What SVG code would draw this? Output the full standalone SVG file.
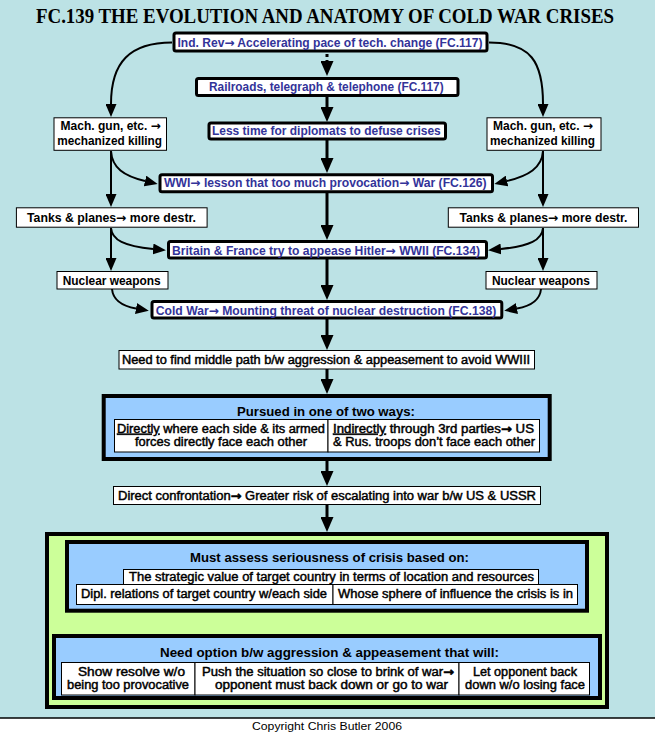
<svg xmlns="http://www.w3.org/2000/svg" width="655" height="735" viewBox="0 0 655 735">
<style>
.bg{fill:#bce2e5}
.tb{fill:#fff;stroke:#000;stroke-width:3}
.nb{fill:#fff;stroke:#000;stroke-width:1}
.big{fill:#99ccff;stroke:#000;stroke-width:4}
.grn{fill:#ccff99;stroke:#000;stroke-width:4}
.bt{font-family:"Liberation Sans Narrow","Arial Narrow","Liberation Sans",Arial,sans-serif;font-weight:bold;font-size:12.5px;fill:#333399}
.kt{font-family:"Liberation Sans Narrow","Arial Narrow","Liberation Sans",Arial,sans-serif;font-weight:bold;font-size:12.5px;fill:#000}
.h{font-family:"Liberation Sans",Arial,sans-serif;font-weight:bold;font-size:12px;fill:#000}
.r{font-family:"Liberation Sans",Arial,sans-serif;font-size:12px;fill:#000;stroke:#000;stroke-width:0.45}
.ar{font-family:"DejaVu Sans",sans-serif;font-weight:bold}
.ttl{font-family:"Liberation Serif","Times New Roman",serif;font-weight:bold;font-size:20px;fill:#000}
.c{fill:none;stroke:#000;stroke-width:3}
.s{fill:none;stroke:#000;stroke-width:2}
</style>
<defs>
<marker id="ab" markerUnits="userSpaceOnUse" markerWidth="15" markerHeight="13" viewBox="0 0 15 13" refX="0" refY="6.5" orient="auto"><path d="M0,0 L15,6.5 L0,13 z" fill="#000"/></marker>
<marker id="as" markerUnits="userSpaceOnUse" markerWidth="13" markerHeight="11" viewBox="0 0 13 11" refX="0" refY="5.5" orient="auto"><path d="M0,0 L13,5.5 L0,11 z" fill="#000"/></marker>
</defs>
<rect class="bg" x="0" y="0" width="655" height="718"/>
<rect x="0" y="718" width="655" height="17" fill="#fff"/>
<line x1="0" y1="718" x2="655" y2="718" stroke="#000" stroke-width="1.5"/>
<text class="ttl" x="36" y="22.5" textLength="578" lengthAdjust="spacingAndGlyphs">FC.139 THE EVOLUTION AND ANATOMY OF COLD WAR CRISES</text>

<g id="connectors">
<path class="c" d="M327,54 V61" stroke-dasharray="3 3" marker-end="url(#ab)"/>
<path class="c" d="M327,97 V107" marker-end="url(#ab)"/>
<path class="c" d="M327,140 V158" marker-end="url(#ab)"/>
<path class="c" d="M327,193 V225" marker-end="url(#ab)"/>
<path class="c" d="M327,259 V285" marker-end="url(#ab)"/>
<path class="c" d="M327,319 V335" marker-end="url(#ab)"/>
<path class="c" d="M327,369 V379" marker-end="url(#ab)"/>
<path class="c" d="M327,461 V471" marker-end="url(#ab)"/>
<path class="c" d="M327,504 V517" marker-end="url(#ab)"/>
<path class="c" d="M327,612.7 V619" marker-end="url(#ab)"/>
<path class="s" d="M172,42.5 C130,42.5 111,62 111,104" marker-end="url(#as)"/>
<path class="s" d="M489,42.5 C531,42.5 543,62 543,104" marker-end="url(#as)"/>
<path class="s" d="M111,151 V194" marker-end="url(#as)"/>
<path class="s" d="M543,151 V194" marker-end="url(#as)"/>
<path class="s" d="M111,228 V258" marker-end="url(#as)"/>
<path class="s" d="M543,228 V258" marker-end="url(#as)"/>
<path class="s" d="M111,151 C112,168 124,176 145,181" marker-end="url(#as)"/>
<path class="s" d="M543,151 C542,168 528,176 507,181" marker-end="url(#as)"/>
<path class="s" d="M111,228 C112,240 124,246 153,249" marker-end="url(#as)"/>
<path class="s" d="M543,228 C542,240 530,246 501,249" marker-end="url(#as)"/>
<path class="s" d="M112,289 C113,300 122,306 136,308.5" marker-end="url(#as)"/>
<path class="s" d="M541,289 C540,300 531,306 517,308.5" marker-end="url(#as)"/>
</g>

<g id="n-indrev"><rect class="tb" x="174" y="33" width="313" height="18" rx="2"/><text class="bt" x="177.5" y="46.7" textLength="305" lengthAdjust="spacingAndGlyphs">Ind. Rev<tspan class="ar">→</tspan> Accelerating pace of tech. change (FC.117)</text></g>
<g id="n-rail"><rect class="tb" x="196.5" y="78.5" width="261.5" height="17" rx="2"/><text class="bt" x="209" y="91" textLength="234.6" lengthAdjust="spacingAndGlyphs">Railroads, telegraph &amp; telephone (FC.117)</text></g>
<g id="n-less"><rect class="tb" x="209" y="123" width="236.5" height="16" rx="2"/><text class="bt" x="212" y="135.3" textLength="228.7" lengthAdjust="spacingAndGlyphs">Less time for diplomats to defuse crises</text></g>
<g id="n-machL"><rect class="nb" x="54" y="117.8" width="112.5" height="32.5"/><text class="kt" x="60.6" y="129.5" textLength="100.2" lengthAdjust="spacingAndGlyphs">Mach. gun, etc. <tspan class="ar">→</tspan></text><text class="kt" x="57.2" y="145.2" textLength="104.8" lengthAdjust="spacingAndGlyphs">mechanized killing</text></g>
<g id="n-machR"><rect class="nb" x="487" y="117.8" width="114" height="32.5"/><text class="kt" x="493" y="129.5" textLength="100" lengthAdjust="spacingAndGlyphs">Mach. gun, etc. <tspan class="ar">→</tspan></text><text class="kt" x="490" y="145.2" textLength="105" lengthAdjust="spacingAndGlyphs">mechanized killing</text></g>
<g id="n-wwi"><rect class="tb" x="160" y="174.8" width="332.5" height="17" rx="2"/><text class="bt" x="164" y="187" textLength="322.6" lengthAdjust="spacingAndGlyphs">WWI<tspan class="ar">→</tspan> lesson that too much provocation<tspan class="ar">→</tspan> War (FC.126)</text></g>
<g id="n-tanksL"><rect class="nb" x="16.4" y="207.8" width="190.7" height="19.4"/><text class="kt" x="27" y="222" textLength="169" lengthAdjust="spacingAndGlyphs">Tanks &amp; planes<tspan class="ar">→</tspan> more destr.</text></g>
<g id="n-tanksR"><rect class="nb" x="448.3" y="207.8" width="190.2" height="19.4"/><text class="kt" x="459.5" y="222" textLength="168" lengthAdjust="spacingAndGlyphs">Tanks &amp; planes<tspan class="ar">→</tspan> more destr.</text></g>
<g id="n-brit"><rect class="tb" x="168.5" y="241.5" width="318" height="16.5" rx="2"/><text class="bt" x="172" y="254.5" textLength="308" lengthAdjust="spacingAndGlyphs">Britain &amp; France try to appease Hitler<tspan class="ar">→</tspan>  WWII (FC.134)</text></g>
<g id="n-nucL"><rect class="nb" x="57" y="271.5" width="111" height="17.5"/><text class="kt" x="62.7" y="284.5" textLength="98" lengthAdjust="spacingAndGlyphs">Nuclear weapons</text></g>
<g id="n-nucR"><rect class="nb" x="486" y="271.5" width="111" height="17.5"/><text class="kt" x="492" y="284.5" textLength="97.8" lengthAdjust="spacingAndGlyphs">Nuclear weapons</text></g>
<g id="n-cold"><rect class="tb" x="152" y="301.5" width="349.8" height="16.5" rx="2"/><text class="bt" x="155.8" y="314.5" textLength="340.4" lengthAdjust="spacingAndGlyphs">Cold War<tspan class="ar">→</tspan> Mounting threat of nuclear destruction  (FC.138)</text></g>
<g id="n-need"><rect class="nb" x="119" y="350.5" width="415.5" height="18.5"/><text class="r" x="122" y="364" textLength="408" lengthAdjust="spacingAndGlyphs">Need to find middle path b/w aggression &amp; appeasement to avoid WWIII</text></g>

<g id="n-pursued">
<rect class="big" x="103.7" y="396" width="446" height="63"/>
<text class="h" x="237" y="415.7" textLength="178" lengthAdjust="spacingAndGlyphs">Pursued in one of two ways:</text>
<rect class="nb" x="114.5" y="419.5" width="213.5" height="32.5"/>
<rect class="nb" x="328" y="419.5" width="211.5" height="32.5"/>
<text class="r" x="117" y="432.7" textLength="208" lengthAdjust="spacingAndGlyphs"><tspan text-decoration="underline">Directly</tspan> where each side &amp; its armed</text>
<text class="r" x="135" y="445.7" textLength="172" lengthAdjust="spacingAndGlyphs">forces directly face each other</text>
<text class="r" x="333" y="432.7" textLength="201" lengthAdjust="spacingAndGlyphs"><tspan text-decoration="underline">Indirectly</tspan> through 3rd parties<tspan class="ar" font-weight="normal">→</tspan>  US</text>
<text class="r" x="333" y="445.7" textLength="202" lengthAdjust="spacingAndGlyphs">&amp; Rus. troops don’t face each other</text>
</g>
<g id="n-direct"><rect class="nb" x="113.5" y="486.5" width="427" height="18"/><text class="r" x="118" y="499.5" textLength="418" lengthAdjust="spacingAndGlyphs">Direct confrontation<tspan class="ar" font-weight="normal">→</tspan>  Greater risk of escalating into war b/w US &amp; USSR</text></g>

<g id="n-outer">
<rect class="grn" x="47" y="534" width="560" height="173"/>
</g>
<g id="n-assess">
<rect class="big" x="67" y="542" width="520" height="68.7"/>
<text class="h" x="190" y="562.3" textLength="279" lengthAdjust="spacingAndGlyphs">Must assess seriousness of crisis based on:</text>
<rect class="nb" x="123.5" y="569.5" width="415" height="15"/>
<text class="r" x="129" y="580.7" textLength="405" lengthAdjust="spacingAndGlyphs">The strategic value of target country in terms of location and resources</text>
<rect class="nb" x="76.5" y="584.5" width="256.5" height="20"/>
<rect class="nb" x="333" y="584.5" width="244.5" height="20"/>
<text class="r" x="81" y="598" textLength="246" lengthAdjust="spacingAndGlyphs">Dipl. relations of target country w/each side</text>
<text class="r" x="338" y="598" textLength="235" lengthAdjust="spacingAndGlyphs">Whose sphere of influence the crisis is in</text>
</g>
<g id="n-option">
<rect class="big" x="54" y="636" width="546" height="62"/>
<text class="h" x="160" y="656.7" textLength="339" lengthAdjust="spacingAndGlyphs">Need option b/w aggression &amp; appeasement that will:</text>
<rect class="nb" x="61.5" y="662.5" width="133.5" height="32.5"/>
<rect class="nb" x="195" y="662.5" width="264" height="32.5"/>
<rect class="nb" x="459" y="662.5" width="130.5" height="32.5"/>
<text class="r" x="78" y="675.7" textLength="107" lengthAdjust="spacingAndGlyphs">Show resolve w/o</text>
<text class="r" x="67" y="689.3" textLength="122" lengthAdjust="spacingAndGlyphs">being too provocative</text>
<text class="r" x="202" y="675.7" textLength="252" lengthAdjust="spacingAndGlyphs">Push the situation so close to brink of war<tspan class="ar" font-weight="normal">→</tspan></text>
<text class="r" x="215" y="689.3" textLength="233" lengthAdjust="spacingAndGlyphs">opponent must back down or go to war</text>
<text class="r" x="473" y="675.7" textLength="104" lengthAdjust="spacingAndGlyphs">Let opponent back</text>
<text class="r" x="465" y="689.3" textLength="120" lengthAdjust="spacingAndGlyphs">down w/o losing face</text>
</g>
<text x="327" y="729.5" text-anchor="middle" font-family="Liberation Sans, Arial, sans-serif" font-size="10.5" fill="#000" textLength="150" lengthAdjust="spacingAndGlyphs">Copyright Chris Butler 2006</text>
</svg>
